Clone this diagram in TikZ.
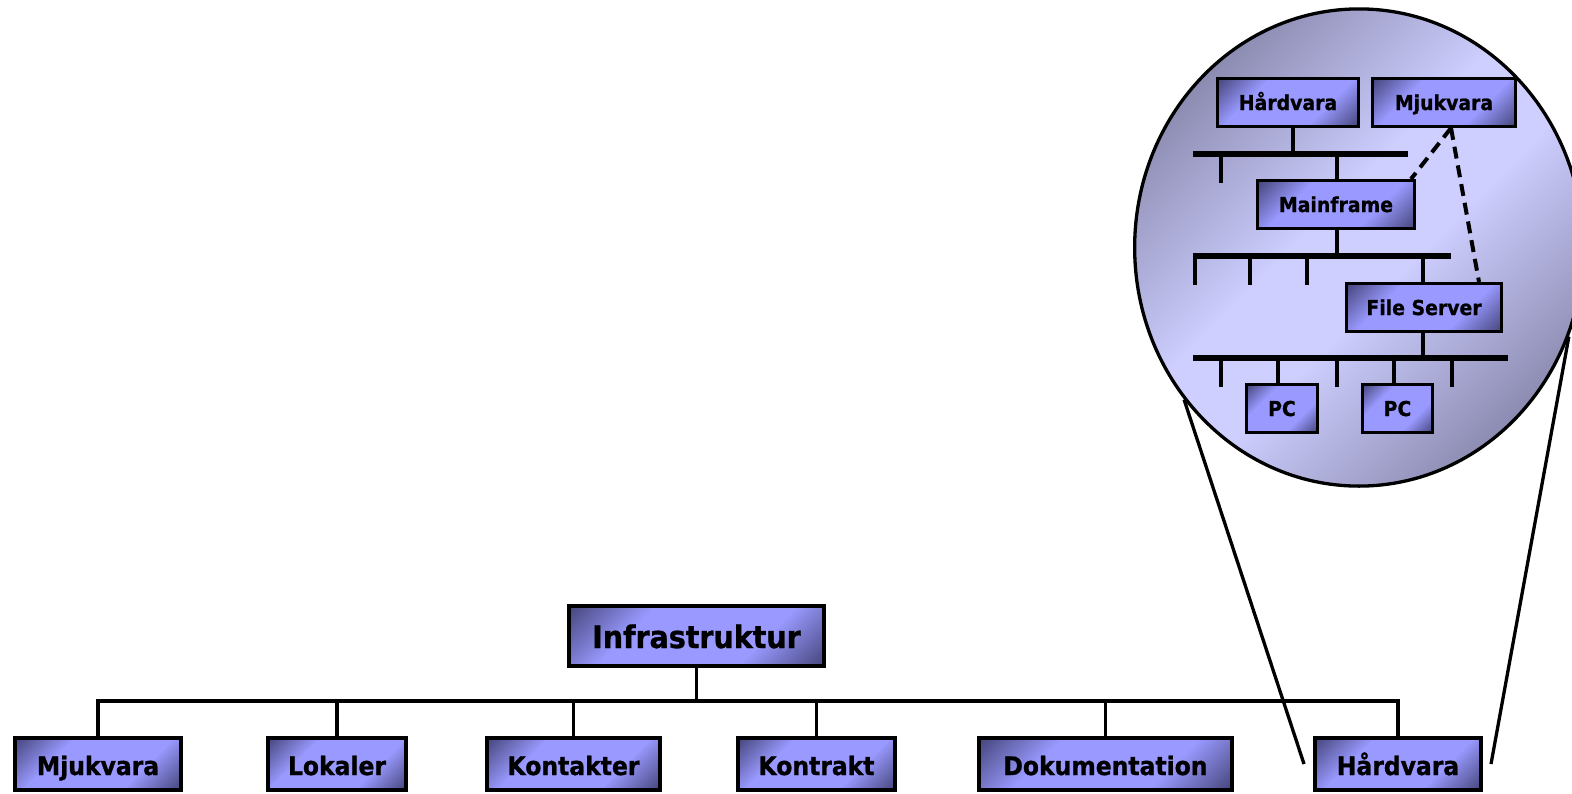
\documentclass[tikz,border=0pt]{standalone}
\usepackage{fontspec}
\newfontfamily\vf{DejaVu Sans Bold}[FakeStretch=0.92, FakeBold=1]
\usetikzlibrary{shapes.geometric}
\definecolor{blight}{RGB}{153,153,255}
\definecolor{bdark}{RGB}{62,62,112}
\definecolor{clight}{RGB}{206,206,255}
\definecolor{cdark}{RGB}{140,140,178}
\pgfdeclareverticalshading{boxshade}{100bp}{color(0bp)=(bdark); color(13bp)=(bdark); color(34bp)=(blight); color(66bp)=(blight); color(87bp)=(bdark); color(100bp)=(bdark)}
\pgfdeclareverticalshading{lensshade}{100bp}{color(0bp)=(cdark); color(25bp)=(cdark); color(45bp)=(clight); color(55bp)=(clight); color(75bp)=(cdark); color(100bp)=(cdark)}
\tikzset{
  basebox/.style={draw=black, shading=boxshade, shading angle=45, inner sep=0pt, text=black},
  lowbox/.style={basebox, line width=4pt, minimum height=52pt, text height=22pt, text depth=0pt, font=\vf\fontsize{25.5}{30}\selectfont},
  topbox/.style={basebox, line width=4pt, minimum height=60pt, text height=24pt, text depth=0pt, font=\vf\fontsize{31}{36}\selectfont},
  smallbox/.style={basebox, line width=3.3pt, minimum height=47.7pt, text height=15pt, text depth=0pt, font=\vf\fontsize{20.5}{24}\selectfont},
  tree/.style={line width=3.3pt, line join=miter},
  busline/.style={line width=6pt},
  tickline/.style={line width=4pt},
  lensline/.style={line width=3.3pt},
  link/.style={line width=4pt, dash pattern=on 12pt off 7pt},
}
\begin{document}
\begin{tikzpicture}[x=1pt, y=-1pt]
\useasboundingbox (0,0) rectangle (1572,793);

% ---- lens (zoomed view) ----
\node[ellipse, draw=black, line width=3.3pt, shading=lensshade, shading angle=45,
      minimum width=448.7pt, minimum height=477.2pt, inner sep=0pt] (lens) at (1359,247.5) {};

% ---- bottom tree ----
\node[topbox, minimum width=255pt] (infra) at (696.5,636) {Infrastruktur};
\node[lowbox, minimum width=166pt] (b1) at (98,764) {Mjukvara};
\node[lowbox, minimum width=138pt] (b2) at (337,764) {Lokaler};
\node[lowbox, minimum width=173pt] (b3) at (573.5,764) {Kontakter};
\node[lowbox, minimum width=157pt] (b4) at (816.5,764) {Kontrakt};
\node[lowbox, minimum width=253pt] (b5) at (1105.5,764) {Dokumentation};
\node[lowbox, minimum width=166pt] (b6) at (1398,764) {Hårdvara};

\coordinate (busy) at (0,701);
\draw[tree] (infra.south) -- (infra.south |- busy);
\draw[tree] (b1.north) -- (b1.north |- busy) -- (b6.north |- busy) -- (b6.north);
\foreach \n in {b2,b3,b4,b5} \draw[tree] (\n.north) -- (\n.north |- busy);

% ---- lens lines ----
\draw[lensline] (lens.221) -- ([xshift=-9pt]b6.west);
\draw[lensline] (lens.337) -- ([xshift=8pt]b6.east);

% ---- inside the lens ----
\node[smallbox, minimum width=140.7pt] (H2) at (1288,102.5) {Hårdvara};
\node[smallbox, minimum width=142.7pt] (M2) at (1444,102.5) {Mjukvara};
\node[smallbox, minimum width=156.7pt] (MF) at (1336,204.5) {Mainframe};
\node[smallbox, minimum width=154.7pt] (FS) at (1424,307.5) {File Server};
\node[smallbox, minimum width=70.7pt] (PC1) at (1282,408.5) {PC};
\node[smallbox, minimum width=69.7pt] (PC2) at (1397.5,408.5) {PC};

\coordinate (b1l) at (1193,154); \coordinate (b1r) at (1408,154);
\coordinate (b2l) at (1193,256); \coordinate (b2r) at (1451,256);
\coordinate (b3l) at (1193,358); \coordinate (b3r) at (1508,358);
\draw[busline] (b1l) -- (b1r);
\draw[busline] (b2l) -- (b2r);
\draw[busline] (b3l) -- (b3r);

% bus 1
\draw[tickline] ([xshift=5pt]H2.south) -- ([xshift=5pt]H2.south |- b1l);
\draw[tickline] ([xshift=28pt]b1l) -- ++(0,29);
\draw[tickline] ([xshift=1pt]MF.north) -- ([xshift=1pt]MF.north |- b1l);
% bus 2
\draw[tickline] ([xshift=1pt]MF.south) -- ([xshift=1pt]MF.south |- b2l);
\draw[tickline] ([xshift=2pt]b2l) -- ++(0,29);
\draw[tickline] ([xshift=57pt]b2l) -- ++(0,29);
\draw[tickline] ([xshift=114pt]b2l) -- ++(0,29);
\draw[tickline] ([xshift=-1pt]FS.north) -- ([xshift=-1pt]FS.north |- b2l);
% bus 3
\draw[tickline] ([xshift=-1pt]FS.south) -- ([xshift=-1pt]FS.south |- b3l);
\draw[tickline] ([xshift=28pt]b3l) -- ++(0,29);
\draw[tickline] ([xshift=144pt]b3l) -- ++(0,29);
\draw[tickline] ([xshift=259pt]b3l) -- ++(0,29);
\draw[tickline] ([xshift=-4pt]PC1.north) -- ([xshift=-4pt]PC1.north |- b3l);
\draw[tickline] ([xshift=-3.5pt]PC2.north) -- ([xshift=-3.5pt]PC2.north |- b3l);

% dashed links
\draw[link] ([xshift=7pt]M2.south) -- ([xshift=-5pt]MF.north east);
\draw[link] ([xshift=7pt]M2.south) -- ([xshift=55pt]FS.north);
\end{tikzpicture}
\end{document}
